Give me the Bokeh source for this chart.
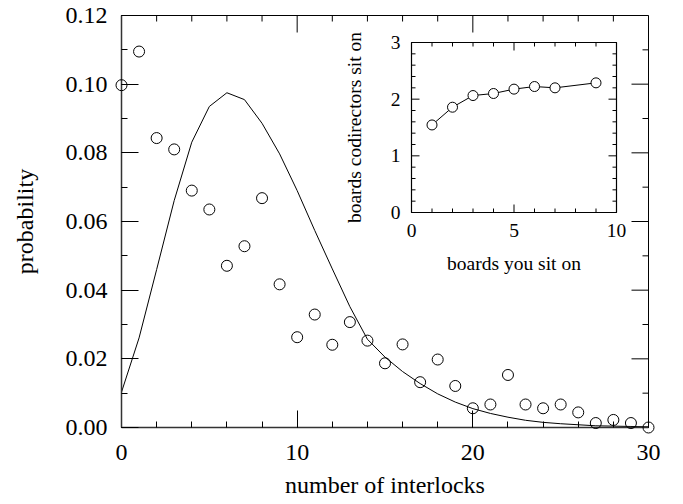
import math
from bokeh.plotting import figure
from bokeh.models import Range1d, FixedTicker, PrintfTickFormatter
from bokeh.core.properties import value
from bokeh.embed import file_html
from bokeh.resources import INLINE

# ---------------- data ----------------
interlocks = list(range(31))
prob_observed = [0.0997, 0.1095, 0.0843, 0.0810, 0.0690, 0.0635, 0.0471, 0.0528,
                 0.0668, 0.0417, 0.0263, 0.0329, 0.0241, 0.0307, 0.0253, 0.0187,
                 0.0242, 0.0132, 0.0198, 0.0121, 0.0056, 0.0067, 0.0153, 0.0067,
                 0.0056, 0.0067, 0.0044, 0.0013, 0.0022, 0.0013, 0.0000]
prob_model = [0.0103, 0.0261, 0.0460, 0.0661, 0.0831, 0.0935, 0.0975, 0.0955,
              0.0886, 0.0797, 0.0690, 0.0574, 0.0462, 0.0352, 0.0257, 0.0205,
              0.0163, 0.0128, 0.0098, 0.0074, 0.0055, 0.0041, 0.0030, 0.0021,
              0.0015, 0.0011, 0.0008, 0.0005, 0.0004, 0.0003, 0.0002]

main_xlim = (0, 30)
main_ylim = (0, 0.12)
main_x_major = [0, 10, 20, 30]
main_x_minor = list(range(0, 31, 2))
main_y_major = [0.0, 0.02, 0.04, 0.06, 0.08, 0.10, 0.12]
main_y_minor = [i / 100 for i in range(0, 13)]

inset_boards = [1, 2, 3, 4, 5, 6, 7, 9]
inset_codir = [1.545, 1.858, 2.064, 2.100, 2.177, 2.223, 2.200, 2.288]
inset_x_major = [0, 5, 10]
inset_x_minor = list(range(0, 11))
inset_y_major = [0, 1, 2, 3]
inset_y_minor = [i / 5 for i in range(0, 16)]
inset_xlim = (0, 10)
inset_ylim = (0, 3)

FONT = "Liberation Serif"

# ---------------- layout ----------------
W, H = 675, 500
BL, BR, BT, BB = 121, 27, 15, 73
FW, FH = W - BL - BR, H - BT - BB
p = figure(width=W, height=H,
           x_range=Range1d(*main_xlim), y_range=Range1d(*main_ylim),
           output_backend="svg", toolbar_location=None,
           min_border_left=BL, min_border_right=BR,
           min_border_top=BT, min_border_bottom=BB)
p.grid.visible = False
p.outline_line_color = "black"
p.background_fill_color = "white"
p.border_fill_color = "white"

xax = p.below[0]
yax = p.left[0]
xax.ticker = FixedTicker(ticks=main_x_major, minor_ticks=main_x_minor)
yax.ticker = FixedTicker(ticks=main_y_major, minor_ticks=main_y_minor)
yax.formatter = PrintfTickFormatter(format="%.2f")

for ax in (xax, yax):
    ax.major_tick_in = 17
    ax.major_tick_out = 0
    ax.minor_tick_in = 6
    ax.minor_tick_out = 0
    ax.axis_line_color = "#333333"
    ax.axis_line_width = 1.5
    ax.major_tick_line_color = "black"
    ax.minor_tick_line_color = "black"
    ax.major_label_text_font = FONT
    ax.major_label_text_font_size = "24px"
    ax.major_label_text_color = "black"
    ax.axis_label_text_font = FONT
    ax.axis_label_text_font_size = "24px"
    ax.axis_label_text_font_style = "normal"
    ax.axis_label_text_color = "black"

xax.major_label_standoff = 17
yax.major_label_standoff = 14
xax.axis_label = "number of interlocks"
yax.axis_label = "probability"
xax.axis_label_standoff = 9
yax.axis_label_standoff = 25


def rays(xs, ys, length, angle, **kw):
    p.ray(x=xs, y=ys, length=length, angle=angle, length_units="screen",
          line_color="black", line_width=1, **kw)


# mirrored ticks on top and right of the main frame
mx_minor = [v for v in main_x_minor if v not in main_x_major]
my_minor = [v for v in main_y_minor if all(abs(v - m) > 1e-9 for m in main_y_major)]
rays(main_x_major, [main_ylim[1]] * len(main_x_major), 17, -math.pi / 2)
rays(mx_minor, [main_ylim[1]] * len(mx_minor), 6, -math.pi / 2)
rays([main_xlim[1]] * len(main_y_major), main_y_major, 17, math.pi)
rays([main_xlim[1]] * len(my_minor), my_minor, 6, math.pi)

# main data
p.line(interlocks, prob_model, line_color="black", line_width=1)
p.scatter(interlocks, prob_observed, marker="circle", size=11,
          fill_color=None, line_color="black", line_width=1, level="overlay")

# ---------------- inset (drawn with its own ranges) ----------------
IL, IB, IW, IH = 290, 197, 205, 170   # inset frame: left px, bottom px (from frame top), size
sx = (inset_xlim[1] - inset_xlim[0]) / IW
sy = (inset_ylim[1] - inset_ylim[0]) / IH
ix0 = inset_xlim[0] - IL * sx
iy0 = inset_ylim[0] - (FH - IB) * sy
p.extra_x_ranges = {"ix": Range1d(ix0, ix0 + FW * sx)}
p.extra_y_ranges = {"iy": Range1d(iy0, iy0 + FH * sy)}
R = dict(x_range_name="ix", y_range_name="iy")

p.quad(left=[inset_xlim[0]], right=[inset_xlim[1]], bottom=[inset_ylim[0]], top=[inset_ylim[1]],
       fill_color="white", line_color="black", line_width=1.2, **R)

ixmin = [v for v in inset_x_minor if v not in inset_x_major]
iymin = [v for v in inset_y_minor if all(abs(v - m) > 1e-9 for m in inset_y_major)]
rays(inset_x_major, [inset_ylim[0]] * len(inset_x_major), 8, math.pi / 2, **R)
rays(inset_x_major, [inset_ylim[1]] * len(inset_x_major), 8, -math.pi / 2, **R)
rays(ixmin, [inset_ylim[0]] * len(ixmin), 4, math.pi / 2, **R)
rays(ixmin, [inset_ylim[1]] * len(ixmin), 4, -math.pi / 2, **R)
rays([inset_xlim[0]] * len(inset_y_major), inset_y_major, 8, 0, **R)
rays([inset_xlim[1]] * len(inset_y_major), inset_y_major, 8, math.pi, **R)
rays([inset_xlim[0]] * len(iymin), iymin, 4, 0, **R)
rays([inset_xlim[1]] * len(iymin), iymin, 4, math.pi, **R)

p.line(inset_boards, inset_codir, line_color="black", line_width=1, **R)
p.scatter(inset_boards, inset_codir, marker="circle", size=10,
          fill_color="white", line_color="black", line_width=1, **R)

p.text(x=inset_x_major, y=[inset_ylim[0]] * len(inset_x_major),
       text=[str(v) for v in inset_x_major], y_offset=18,
       text_align="center", text_baseline="middle",
       text_font=value(FONT), text_font_size="19.5px", text_color="black", **R)
p.text(x=[inset_xlim[0]] * len(inset_y_major), y=inset_y_major,
       text=[str(v) for v in inset_y_major], x_offset=-11,
       text_align="right", text_baseline="middle",
       text_font=value(FONT), text_font_size="19.5px", text_color="black", **R)
p.text(x=[(inset_xlim[0] + inset_xlim[1]) / 2], y=[inset_ylim[0]],
       text=["boards you sit on"], y_offset=51,
       text_align="center", text_baseline="middle",
       text_font=value(FONT), text_font_size="19.5px", text_color="black", **R)
p.text(x=[inset_xlim[0]], y=[(inset_ylim[0] + inset_ylim[1]) / 2],
       text=["boards codirectors sit on"], x_offset=-57, angle=math.pi / 2,
       text_align="center", text_baseline="middle",
       text_font=value(FONT), text_font_size="19.5px", text_color="black", **R)

open("out.html", "w").write(file_html(p, INLINE))
